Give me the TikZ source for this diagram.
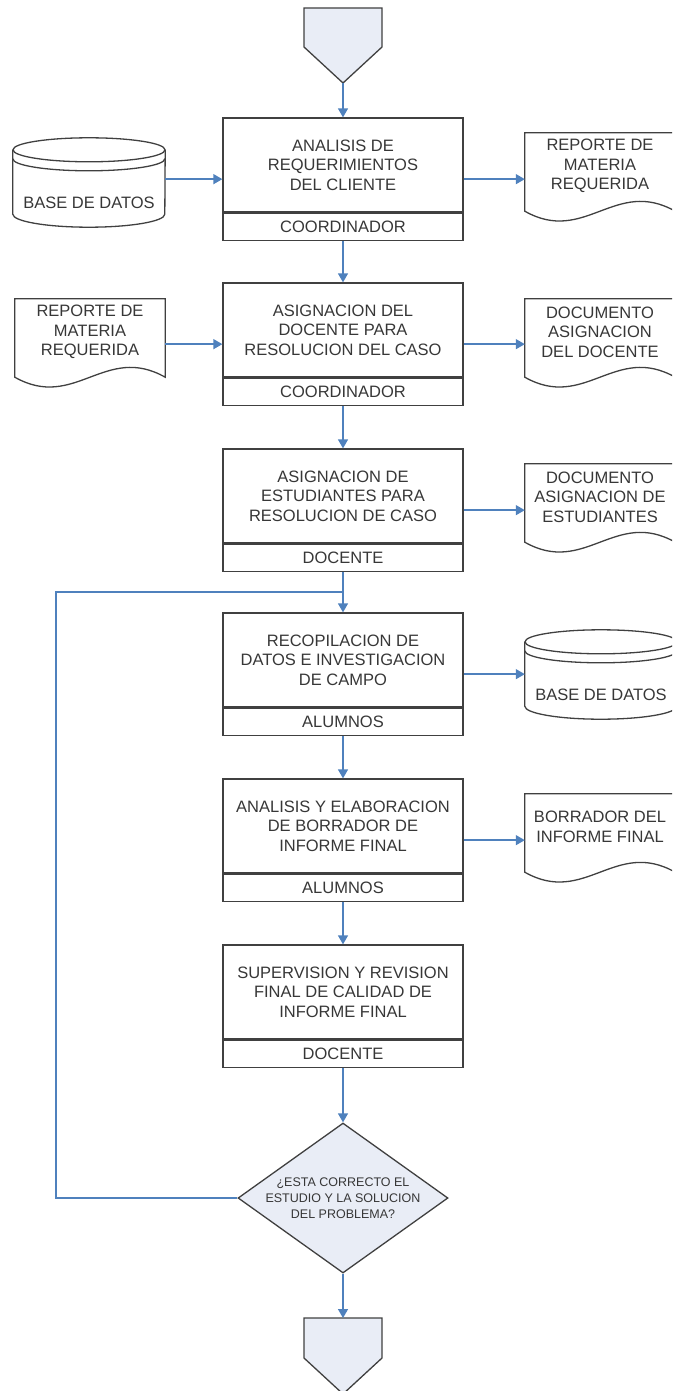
\documentclass[tikz,border=0pt]{standalone}
\usepackage{fontspec}
\setmainfont{Liberation Sans}
\usetikzlibrary{calc, positioning, shapes.geometric, arrows.meta}

\definecolor{flowblue}{RGB}{79,129,189}
\definecolor{lightfill}{RGB}{233,237,246}
\definecolor{edge}{RGB}{64,64,64}
\definecolor{ink}{RGB}{55,55,55}

\tikzset{
	box/.style = {draw=edge, line width=1.3pt, text=ink, align=center, inner sep=0pt, font=\fontsize{16.5}{19.5}\selectfont},
	task/.style = {box, minimum width=240pt, minimum height=94pt},
	role/.style = {box, minimum width=240pt, minimum height=27pt},
	paper/.style = {text=ink, align=center, inner sep=0pt, minimum width=150pt, minimum height=66pt, font=\fontsize{16.5}{19.5}\selectfont},
	store/.style = {inner sep=0pt, minimum width=152pt, minimum height=89pt},
	outline/.style = {draw=edge, line width=1.3pt},
	decision/.style = {diamond, draw=edge, line width=1.3pt, fill=lightfill, minimum width=210pt, minimum height=150pt, inner sep=0pt},
	flow/.style = {draw=flowblue, line width=1.4pt},
}

\begin{document}
\begin{tikzpicture}[x=1pt, y=-1pt]
	\def\colx{343};

	\useasboundingbox (0,0) rectangle (672,1391);
	\clip (0,0) rectangle (672,1391);

	% start and end marks
	\draw[outline, fill=lightfill] (304,8) -- (382,8) -- (382,47) -- (\colx,83) -- (304,47) -- cycle;
	\draw[outline, fill=lightfill] (304,1318) -- (382,1318) -- (382,1358) -- (\colx,1394) -- (304,1358) -- cycle;
	\coordinate (start) at (\colx,83);
	\coordinate (stop) at (\colx,1318);

	% main column
	\node[task] (t1) at (\colx,165) {ANALISIS DE\\REQUERIMIENTOS\\DEL CLIENTE};
	\node[role, below=0pt of t1] (r1) {COORDINADOR};
	\node[task] (t2) at (\colx,330) {ASIGNACION DEL\\DOCENTE PARA\\RESOLUCION DEL CASO};
	\node[role, below=0pt of t2] (r2) {COORDINADOR};
	\node[task] (t3) at (\colx,496) {ASIGNACION DE\\ESTUDIANTES PARA\\RESOLUCION DE CASO};
	\node[role, below=0pt of t3] (r3) {DOCENTE};
	\node[task] (t4) at (\colx,660) {RECOPILACION DE\\DATOS E INVESTIGACION\\DE CAMPO};
	\node[role, below=0pt of t4] (r4) {ALUMNOS};
	\node[task] (t5) at (\colx,826) {ANALISIS Y ELABORACION\\DE BORRADOR DE\\INFORME FINAL};
	\node[role, below=0pt of t5] (r5) {ALUMNOS};
	\node[task] (t6) at (\colx,992) {SUPERVISION Y REVISION\\FINAL DE CALIDAD DE\\INFORME FINAL};
	\node[role, below=0pt of t6] (r6) {DOCENTE};

	\node[decision] (q) at (\colx,1198) {};
	\node[text=ink, align=center, inner sep=0pt, font=\fontsize{12.5}{16}\selectfont] (qlabel) at (q) {¿ESTA CORRECTO EL\\ESTUDIO Y LA SOLUCION\\DEL PROBLEMA?};

	% documents and data stores
	\node[store, label={[text=ink, font=\fontsize{16.5}{19.5}\selectfont, yshift=-20pt]center:BASE DE DATOS}] (db1) at (89,182.5) {};
	\node[store, label={[text=ink, font=\fontsize{16.5}{19.5}\selectfont, yshift=-20pt]center:BASE DE DATOS}] (db2) at (601,674.5) {};
	\node[paper] (d1) at (600,166) {REPORTE DE\\MATERIA\\REQUERIDA};
	\node[paper] (d2) at (90,332) {REPORTE DE\\MATERIA\\REQUERIDA};
	\node[paper] (d3) at (600,332) {DOCUMENTO\\ASIGNACION\\DEL DOCENTE};
	\node[paper] (d4) at (600,497) {DOCUMENTO\\ASIGNACION DE\\ESTUDIANTES};
	\node[paper] (d5) at (600,827) {BORRADOR DEL\\INFORME FINAL};

	\foreach \d in {d1, d2, d3, d4, d5}
		\draw[outline] (\d.north west) -- (\d.north east) -- ($(\d.south east)+(0,12)$)
			.. controls ($(\d.south east)+(-60,-22)$) and ($(\d.south west)+(60,46)$) .. ($(\d.south west)+(0,12)$) -- cycle;

	\foreach \s in {db1, db2} {
		\draw[outline] ($(\s.north west)+(0,12)$) -- ($(\s.south west)+(0,-13)$)
			arc [start angle=180, end angle=360, x radius=76pt, y radius=13pt] -- ($(\s.north east)+(0,12)$);
		\draw[outline] ($(\s.north)+(0,12)$) ellipse [x radius=76pt, y radius=12pt];
		\draw[outline] ($(\s.north west)+(0,21)$) arc [start angle=180, end angle=360, x radius=76pt, y radius=12pt];
	}

	% middle of each step
	\foreach \i in {1,...,5}
		\coordinate (m\i) at ($(t\i.north)!0.5!(r\i.south)$);
	\coordinate (back) at (56,592);

	\begin{scope}[flow, -{Triangle[length=9pt, width=10pt]}]
		\draw (start) -- (t1.north);
		\draw (r1.south) -- (t2.north);
		\draw (r2.south) -- (t3.north);
		\draw (r3.south) -- (t4.north);
		\draw (r4.south) -- (t5.north);
		\draw (r5.south) -- (t6.north);
		\draw (r6.south) -- (q.north);
		\draw (q.south) -- (stop);

		\draw (db1.east |- m1) -- (t1.west |- m1);
		\draw (t1.east |- m1) -- (d1.west |- m1);
		\draw (d2.east |- m2) -- (t2.west |- m2);
		\draw (t2.east |- m2) -- (d3.west |- m2);
		\draw (t3.east |- m3) -- (d4.west |- m3);
		\draw (t4.east |- m4) -- (db2.west |- m4);
		\draw (t5.east |- m5) -- (d5.west |- m5);
	\end{scope}

	% loop back for corrections
	\draw[flow] (q.west) -| (back) -- (back -| r3.south);
\end{tikzpicture}
\end{document}
